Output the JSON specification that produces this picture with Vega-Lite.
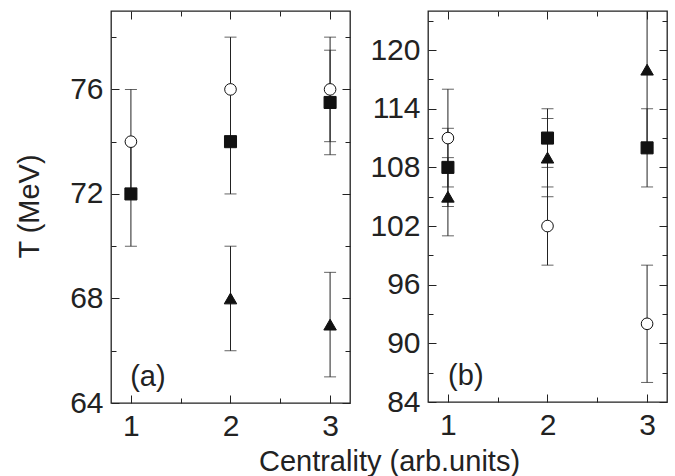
{
  "$schema": "https://vega.github.io/schema/vega-lite/v6.json",
  "background": "white",
  "padding": {"left": 14, "top": 5, "right": 9, "bottom": 0},
  "bounds": "flush",
  "spacing": 78,
  "datasets": {
    "a": [
      {"s": "circle", "x": 1, "y": 74, "lo": 72, "hi": 76},
      {"s": "circle", "x": 2, "y": 76, "lo": 74, "hi": 78},
      {"s": "circle", "x": 3, "y": 76, "lo": 74, "hi": 78},
      {"s": "square", "x": 1, "y": 72, "lo": 70, "hi": 74},
      {"s": "square", "x": 2, "y": 74, "lo": 72, "hi": 76},
      {"s": "square", "x": 3, "y": 75.5, "lo": 73.5, "hi": 77.5},
      {"s": "triangle", "x": 2, "y": 68, "lo": 66, "hi": 70},
      {"s": "triangle", "x": 3, "y": 67, "lo": 65, "hi": 69}
    ],
    "b": [
      {"s": "circle", "x": 1, "y": 111, "lo": 106, "hi": 116},
      {"s": "circle", "x": 2, "y": 102, "lo": 98, "hi": 106},
      {"s": "circle", "x": 3, "y": 92, "lo": 86, "hi": 98},
      {"s": "square", "x": 1, "y": 108, "lo": 104, "hi": 112},
      {"s": "square", "x": 2, "y": 111, "lo": 108, "hi": 114},
      {"s": "square", "x": 3, "y": 110, "lo": 106, "hi": 114},
      {"s": "triangle", "x": 1, "y": 105, "lo": 101, "hi": 109},
      {"s": "triangle", "x": 2, "y": 109, "lo": 105, "hi": 113},
      {"s": "triangle", "x": 3, "y": 118, "lo": 110, "hi": 126}
    ]
  },
  "hconcat": [
    {
      "width": 239,
      "height": 392,
      "data": {"name": "a"},
      "layer": [
        {
          "mark": {"type": "rule", "clip": true, "color": "#222", "strokeWidth": 1},
          "encoding": {
            "x": {"field": "x", "type": "quantitative", "scale": {"domain": [0.8, 3.2], "nice": false, "zero": false},
              "axis": {"orient": "bottom", "values": [1, 1.5, 2, 2.5, 3],
                "tickSize": {"condition": {"test": "datum.value % 1 == 0", "value": -8}, "value": -5},
                "labelExpr": "datum.value % 1 == 0 ? format(datum.value, 'd') : ''", "labelPadding": 16,
                "title": "Centrality (arb.units)", "titleX": 278, "titleY": 67, "titleAlign": "center", "titleBaseline": "alphabetic"}},
            "y": {"field": "lo", "type": "quantitative", "scale": {"domain": [64, 79], "nice": false, "zero": false},
              "axis": {"orient": "left", "values": [64, 66, 68, 70, 72, 74, 76, 78],
                "tickSize": {"condition": {"test": "datum.value % 4 == 0", "value": -8}, "value": -5},
                "labelExpr": "datum.value % 4 == 0 ? datum.label : ''", "labelPadding": 16,
                "title": "T (MeV)", "titleX": -82, "titleY": 195, "titleAlign": "center", "titleBaseline": "middle", "titleAngle": -90}},
            "y2": {"field": "hi"}
          }
        },
        {
          "mark": {"type": "tick", "orient": "horizontal", "size": 12, "thickness": 1, "color": "#222", "clip": true},
          "encoding": {
            "x": {"field": "x", "type": "quantitative",
              "axis": {"orient": "top", "values": [1, 1.5, 2, 2.5, 3],
                "tickSize": {"condition": {"test": "datum.value % 1 == 0", "value": -8}, "value": -5},
                "labels": false, "title": null}},
            "y": {"field": "lo", "type": "quantitative",
              "axis": {"orient": "right", "values": [64, 66, 68, 70, 72, 74, 76, 78],
                "tickSize": {"condition": {"test": "datum.value % 4 == 0", "value": -8}, "value": -5},
                "labels": false, "title": null}}
          }
        },
        {
          "mark": {"type": "tick", "orient": "horizontal", "size": 12, "thickness": 1, "color": "#222", "clip": true},
          "encoding": {
            "x": {"field": "x", "type": "quantitative", "axis": null},
            "y": {"field": "hi", "type": "quantitative", "axis": null}
          }
        },
        {
          "mark": {"type": "point", "filled": true, "stroke": "#111", "strokeWidth": 1, "opacity": 1},
          "encoding": {
            "x": {"field": "x", "type": "quantitative", "axis": null},
            "y": {"field": "y", "type": "quantitative", "axis": null},
            "shape": {"field": "s", "type": "nominal", "scale": {"domain": ["circle", "square", "triangle"], "range": ["circle", "square", "triangle-up"]}, "legend": null},
            "fill": {"field": "s", "type": "nominal", "scale": {"domain": ["circle", "square", "triangle"], "range": ["#ffffff", "#111111", "#111111"]}, "legend": null},
            "size": {"field": "s", "type": "ordinal", "scale": {"domain": ["circle", "square", "triangle"], "range": [135, 156, 225]}, "legend": null}
          }
        },
        {
          "data": {"values": [{"label": "(a)"}]},
          "mark": {"type": "text", "fontSize": 29, "color": "#222", "align": "center", "baseline": "middle"},
          "encoding": {
            "x": {"datum": 1.17, "type": "quantitative", "axis": null},
            "y": {"datum": 65.0, "type": "quantitative", "axis": null},
            "text": {"field": "label"}
          }
        }
      ],
      "resolve": {"axis": {"x": "independent", "y": "independent"}}
    },
    {
      "width": 239,
      "height": 391,
      "data": {"name": "b"},
      "layer": [
        {
          "mark": {"type": "rule", "clip": true, "color": "#222", "strokeWidth": 1},
          "encoding": {
            "x": {"field": "x", "type": "quantitative", "scale": {"domain": [0.8, 3.2], "nice": false, "zero": false},
              "axis": {"orient": "bottom", "values": [1, 1.5, 2, 2.5, 3],
                "tickSize": {"condition": {"test": "datum.value % 1 == 0", "value": -8}, "value": -5},
                "labelExpr": "datum.value % 1 == 0 ? format(datum.value, 'd') : ''", "labelPadding": 16, "title": null}},
            "y": {"field": "lo", "type": "quantitative", "scale": {"domain": [84, 124], "nice": false, "zero": false},
              "axis": {"orient": "left", "values": [84, 87, 90, 93, 96, 99, 102, 105, 108, 111, 114, 117, 120, 123],
                "tickSize": {"condition": {"test": "(datum.value - 84) % 6 == 0", "value": -8}, "value": -5},
                "labelExpr": "(datum.value - 84) % 6 == 0 ? datum.label : ''", "labelPadding": 16, "title": null}},
            "y2": {"field": "hi"}
          }
        },
        {
          "mark": {"type": "tick", "orient": "horizontal", "size": 12, "thickness": 1, "color": "#222", "clip": true},
          "encoding": {
            "x": {"field": "x", "type": "quantitative",
              "axis": {"orient": "top", "values": [1, 1.5, 2, 2.5, 3],
                "tickSize": {"condition": {"test": "datum.value % 1 == 0", "value": -8}, "value": -5},
                "labels": false, "title": null}},
            "y": {"field": "lo", "type": "quantitative",
              "axis": {"orient": "right", "values": [84, 87, 90, 93, 96, 99, 102, 105, 108, 111, 114, 117, 120, 123],
                "tickSize": {"condition": {"test": "(datum.value - 84) % 6 == 0", "value": -8}, "value": -5},
                "labels": false, "title": null}}
          }
        },
        {
          "mark": {"type": "tick", "orient": "horizontal", "size": 12, "thickness": 1, "color": "#222", "clip": true},
          "encoding": {
            "x": {"field": "x", "type": "quantitative", "axis": null},
            "y": {"field": "hi", "type": "quantitative", "axis": null}
          }
        },
        {
          "mark": {"type": "point", "filled": true, "stroke": "#111", "strokeWidth": 1, "opacity": 1},
          "encoding": {
            "x": {"field": "x", "type": "quantitative", "axis": null},
            "y": {"field": "y", "type": "quantitative", "axis": null},
            "shape": {"field": "s", "type": "nominal", "scale": {"domain": ["circle", "square", "triangle"], "range": ["circle", "square", "triangle-up"]}, "legend": null},
            "fill": {"field": "s", "type": "nominal", "scale": {"domain": ["circle", "square", "triangle"], "range": ["#ffffff", "#111111", "#111111"]}, "legend": null},
            "size": {"field": "s", "type": "ordinal", "scale": {"domain": ["circle", "square", "triangle"], "range": [135, 156, 225]}, "legend": null}
          }
        },
        {
          "data": {"values": [{"label": "(b)"}]},
          "mark": {"type": "text", "fontSize": 29, "color": "#222", "align": "center", "baseline": "middle"},
          "encoding": {
            "x": {"datum": 1.18, "type": "quantitative", "axis": null},
            "y": {"datum": 86.7, "type": "quantitative", "axis": null},
            "text": {"field": "label"}
          }
        }
      ],
      "resolve": {"axis": {"x": "independent", "y": "independent"}}
    }
  ],
  "config": {
    "font": "Liberation Sans",
    "view": {"stroke": "#222", "strokeWidth": 1.3},
    "axis": {
      "domain": false,
      "grid": false,
      "labelFont": "Liberation Sans",
      "labelFontSize": 30,
      "labelColor": "#222",
      "labelFlush": false,
      "labelOverlap": false,
      "tickColor": "#222",
      "tickWidth": 1,
      "titleFont": "Liberation Sans",
      "titleFontSize": 29,
      "titleFontWeight": "normal",
      "titleColor": "#222"
    }
  }
}
